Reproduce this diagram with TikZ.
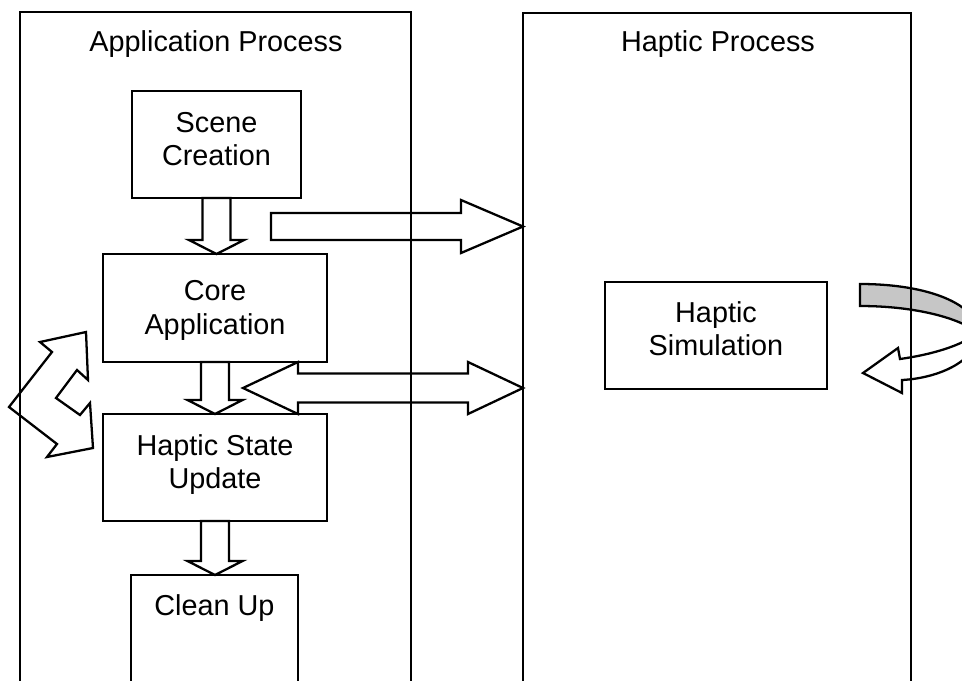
\documentclass[tikz,border=0pt]{standalone}
\usepackage{fontspec}
\setmainfont{Liberation Sans}
\usetikzlibrary{calc, positioning}

\begin{document}
\begin{tikzpicture}[
    x=0.02cm, y=-0.02cm,
    line width=1.3pt,
    every node/.style={font=\fontsize{16.4pt}{19pt}\selectfont},
    procframe/.style={draw, minimum height=13.8cm, anchor=north west, inner sep=0pt, outer sep=0pt},
    box/.style={draw, align=center, inner sep=0pt, outer sep=0pt, minimum height=2.14cm, text height=30.75pt},
    fatdown/.style={to path={($(\tikztostart)+(-14,0)$) -- ($(\tikztotarget)+(-14,-14)$) -- ($(\tikztotarget)+(-27.5,-14)$) -- (\tikztotarget) -- ($(\tikztotarget)+(27.5,-14)$) -- ($(\tikztotarget)+(14,-14)$) -- ($(\tikztostart)+(14,0)$) -- cycle}},
    fatright/.style={to path={($(\tikztostart)+(0,-13.5)$) -- ($(\tikztotarget)+(-62,-13.5)$) -- ($(\tikztotarget)+(-62,-26.5)$) -- (\tikztotarget) -- ($(\tikztotarget)+(-62,26.5)$) -- ($(\tikztotarget)+(-62,13.5)$) -- ($(\tikztostart)+(0,13.5)$) -- cycle}},
    fatboth/.style={to path={(\tikztostart) -- ($(\tikztostart)+(55,-26)$) -- ($(\tikztostart)+(55,-14.5)$) -- ($(\tikztotarget)+(-55,-14.5)$) -- ($(\tikztotarget)+(-55,-26)$) -- (\tikztotarget) -- ($(\tikztotarget)+(-55,26)$) -- ($(\tikztotarget)+(-55,14.5)$) -- ($(\tikztostart)+(55,14.5)$) -- ($(\tikztostart)+(55,26)$) -- cycle}},
]
\useasboundingbox (0,0) rectangle (962,680);

% twisted loop arrow at the haptic side
\draw[fill=gray!45] (860,284) .. controls (930,284) and (978,305) .. (978,333) .. controls (960,318) and (915,306) .. (860,306) -- cycle;
\draw (978,333) .. controls (978,360) and (940,378) .. (902,380) -- (902,393) -- (863,373) -- (898,348) -- (900,359) .. controls (935,354) and (962,345) .. (978,333) -- cycle;

% the two processes
\node[procframe, minimum width=7.82cm] (apframe) at (20,12) {};
\node[procframe, minimum width=7.76cm] (hpframe) at (523,13) {};
\node[anchor=base] (aptitle) at (216,51) {Application Process};
\node[anchor=base] (hptitle) at (718,51) {Haptic Process};

% application steps
\node[box, minimum width=3.38cm, text depth=6.8pt] (scene) at (216.5,144.5) {Scene\\Creation};
\node[box, minimum width=4.48cm, minimum height=2.16cm, text depth=1pt] (core) at (215,308) {Core\\Application};
\node[box, minimum width=4.48cm, text depth=6.8pt] (state) at (215,467.5) {Haptic State\\Update};
\node[box, minimum width=3.34cm, text height=11.75pt, text depth=26.7pt] (cleanup) at (214.5,628.5) {Clean Up};

% haptic loop
\node[box, minimum width=4.44cm, text depth=8pt] (sim) at (716,335.5) {Haptic\\Simulation};

\coordinate (push) at (271,226.5);
\coordinate (sync) at (243,388);

\draw (scene.south) to[fatdown] (scene.south |- core.north);
\draw (core.south) to[fatdown] (core.south |- state.north);
\draw (state.south) to[fatdown] (state.south |- cleanup.north);
\draw (push) to[fatright] (push -| hpframe.west);
\draw (sync) to[fatboth] (sync -| hpframe.west);

% bent exchange arrow on the left
\draw (9,407) -- (52,352) -- (40,342) -- (86,332) -- (88,380) -- (77,370) -- (56,398) -- (80,415) -- (90,403) -- (93,448) -- (47,457) -- (57,444) -- cycle;
\end{tikzpicture}
\end{document}
